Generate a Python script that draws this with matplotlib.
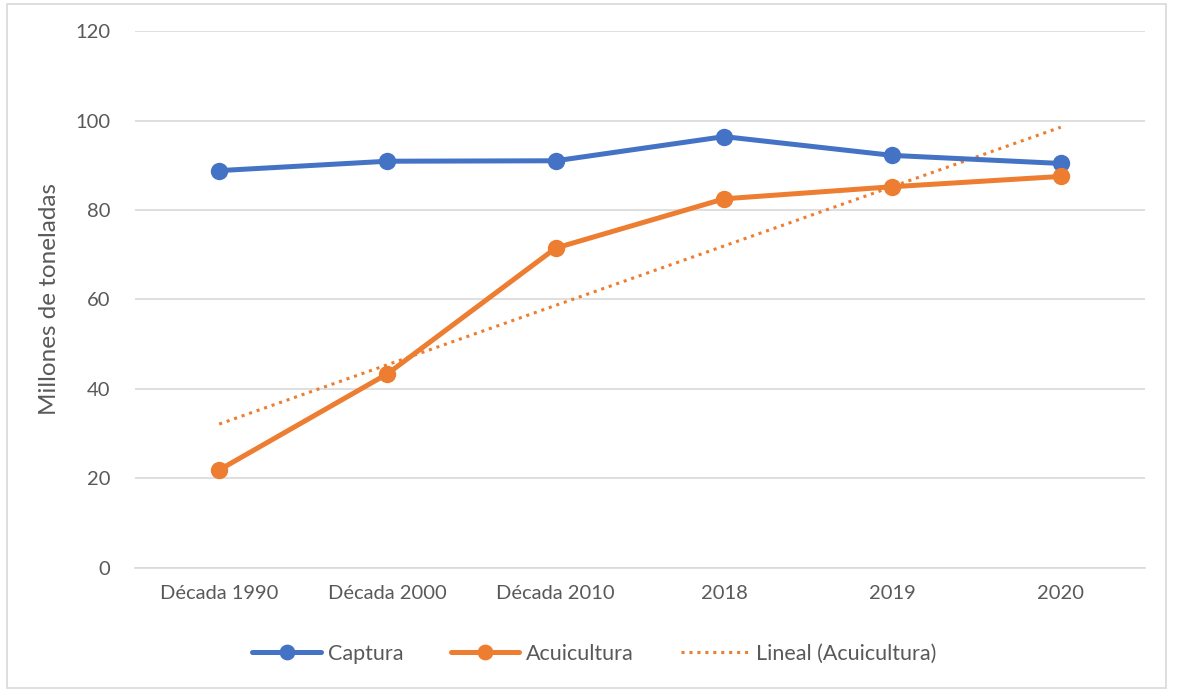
import numpy as np
import matplotlib
matplotlib.use("Agg")
import matplotlib.pyplot as plt
from matplotlib.patches import Rectangle

plt.rcParams['font.family'] = ['Lato', 'DejaVu Sans']

categorias = ["Década 1990", "Década 2000", "Década 2010", "2018", "2019", "2020"]
captura = [88.8, 90.9, 91.0, 96.4, 92.2, 90.4]
acuicultura = [21.9, 43.4, 71.5, 82.5, 85.2, 87.5]

azul = "#4472C4"
naranja = "#ED7D31"
gris_texto = "#595959"

x = np.arange(1, len(categorias) + 1)
# linea de tendencia lineal (como Excel)
m, b = np.polyfit(x, acuicultura, 1)
tendencia = m * x + b

fig = plt.figure(figsize=(11.77, 6.92), dpi=100)
fig.patches.append(Rectangle((0.006, 0.006), 0.985, 0.988, transform=fig.transFigure,
                             fill=False, edgecolor="#D9D9D9", linewidth=1.2))
ax = fig.add_axes([0.1147, 0.1792, 0.858, 0.776])

ax.plot(x, captura, color=azul, lw=3.6, marker="o", ms=11.5, label="Captura",
        solid_capstyle="round", zorder=3)
ax.plot(x, acuicultura, color=naranja, lw=3.6, marker="o", ms=11.5, label="Acuicultura",
        solid_capstyle="round", zorder=3)
ax.plot(x, tendencia, color=naranja, lw=2.2, linestyle=(0, (1, 1.6)),
        label="Lineal (Acuicultura)", zorder=2)

ax.set_xlim(0.5, 6.5)
ax.set_ylim(0, 120)
ax.set_yticks(range(0, 121, 20))
ax.set_xticks(x)
ax.set_xticklabels(categorias)
ax.grid(axis="y", color="#D9D9D9", lw=1.2)
ax.set_axisbelow(True)
for s in ["top", "right", "left"]:
    ax.spines[s].set_visible(False)
ax.spines["bottom"].set_color("#D9D9D9")
ax.spines["bottom"].set_linewidth(1.2)
ax.tick_params(axis="both", length=0, labelsize=14.5, colors=gris_texto, pad=12)
ax.tick_params(axis="y", pad=18)
ax.set_ylabel("Millones de toneladas", fontsize=17.5, color=gris_texto, labelpad=11)

ax.legend(loc="upper center", bbox_to_anchor=(0.455, -0.105), ncol=3, frameon=False,
          fontsize=15.5, labelcolor=gris_texto, handlelength=3.2, handletextpad=0.3,
          columnspacing=2.2, markerscale=0.9)

fig.savefig("out.png", dpi=100)
